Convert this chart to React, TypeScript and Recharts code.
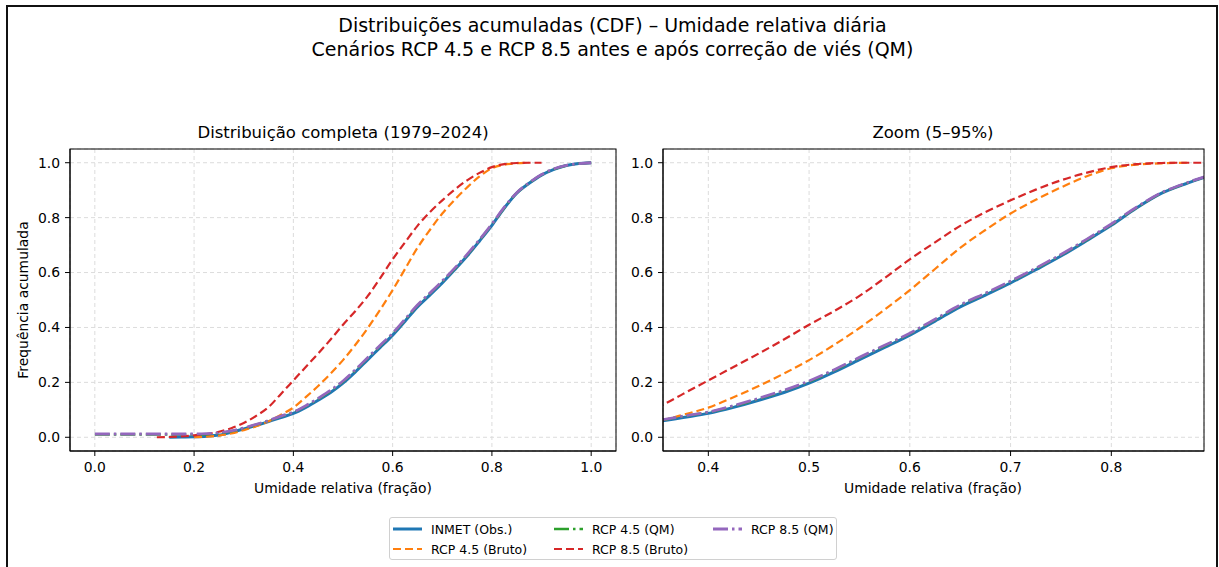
import React from "react"
import {
  CartesianGrid,
  Line,
  LineChart,
  XAxis,
  YAxis,
} from "recharts"

// umidade relativa (fração) — grade comum das CDFs
const umidade = [
  0, 0.025, 0.05, 0.075, 0.1, 0.125, 0.15, 0.175, 0.2, 0.225, 0.25, 0.275,
  0.3, 0.325, 0.35, 0.375, 0.4, 0.425, 0.45, 0.475, 0.5, 0.525, 0.55, 0.575,
  0.6, 0.625, 0.65, 0.675, 0.7, 0.725, 0.75, 0.775, 0.8, 0.825, 0.85, 0.875,
  0.9, 0.925, 0.95, 0.975, 1.0,
]

const inmetObs = [
  null, null, null, null, null, null, 0.0, 0.001, 0.002, 0.004, 0.008, 0.018,
  0.03, 0.043, 0.057, 0.072, 0.087, 0.109, 0.135, 0.163, 0.197, 0.238, 0.283, 0.327,
  0.372, 0.423, 0.475, 0.518, 0.562, 0.61, 0.66, 0.715, 0.772, 0.835, 0.889, 0.925,
  0.955, 0.976, 0.99, 0.997, 1.0,
]

const rcp45Bruto = [
  null, null, null, null, null, null, null, null, 0.0, 0.002, 0.006, 0.014,
  0.026, 0.04, 0.058, 0.082, 0.108, 0.146, 0.187, 0.232, 0.281, 0.337, 0.398, 0.465,
  0.536, 0.613, 0.69, 0.755, 0.815, 0.865, 0.91, 0.95, 0.98, 0.993, 0.998, 1.0,
  null, null, null, null, null,
]

const rcp45QM = [
  0.01, 0.01, 0.01, 0.01, 0.01, 0.01, 0.01, 0.01, 0.01, 0.011, 0.015, 0.022,
  0.033, 0.046, 0.06, 0.076, 0.091, 0.113, 0.14, 0.169, 0.203, 0.244, 0.289, 0.333,
  0.377, 0.428, 0.48, 0.523, 0.567, 0.614, 0.664, 0.718, 0.775, 0.836, 0.89, 0.926,
  0.956, 0.977, 0.99, 0.997, 1.0,
]

const rcp85Bruto = [
  null, null, null, null, null, 0.0, 0.001, 0.003, 0.007, 0.012, 0.02, 0.033,
  0.052, 0.078, 0.11, 0.158, 0.207, 0.256, 0.305, 0.356, 0.41, 0.46, 0.515, 0.58,
  0.648, 0.71, 0.77, 0.82, 0.863, 0.902, 0.936, 0.963, 0.984, 0.995, 0.999, 1.0,
  1.0, null, null, null, null,
]

const rcp85QM = [
  0.012, 0.012, 0.012, 0.012, 0.012, 0.012, 0.012, 0.012, 0.012, 0.013, 0.016, 0.023,
  0.034, 0.047, 0.061, 0.077, 0.092, 0.115, 0.142, 0.171, 0.205, 0.246, 0.291, 0.335,
  0.379, 0.43, 0.482, 0.525, 0.569, 0.616, 0.666, 0.72, 0.777, 0.838, 0.891, 0.927,
  0.957, 0.978, 0.99, 0.997, 1.0,
]

const yTicks = [0, 0.2, 0.4, 0.6, 0.8, 1.0]
const xTicksFull = [0, 0.2, 0.4, 0.6, 0.8, 1.0]
const xTicksZoom = [0.4, 0.5, 0.6, 0.7, 0.8]

const FONT = "'DejaVu Sans', sans-serif"

const rows = umidade.map((x, i) => ({
  x,
  inmet: inmetObs[i],
  r45b: rcp45Bruto[i],
  r45q: rcp45QM[i],
  r85b: rcp85Bruto[i],
  r85q: rcp85QM[i],
}))

const series = [
  { key: "inmet", name: "INMET (Obs.)", color: "#1f77b4", width: 3, dash: undefined },
  { key: "r45b", name: "RCP 4.5 (Bruto)", color: "#ff7f0e", width: 2.2, dash: "8 4" },
  { key: "r45q", name: "RCP 4.5 (QM)", color: "#2ca02c", width: 2.4, dash: "15 4 2.5 4" },
  { key: "r85b", name: "RCP 8.5 (Bruto)", color: "#d62728", width: 2.2, dash: "8 4" },
  { key: "r85q", name: "RCP 8.5 (QM)", color: "#9467bd", width: 2.8, dash: "15 4 2.5 4" },
]

const tickStyle = { fill: "#000", fontSize: 13.9, fontFamily: FONT }

// chart boxes (page px); plot area = box minus margins/axes
const TOP = 140
const HEIGHT = 370
const M_TOP = 9
const M_BOTTOM = 19
const X_AXIS_H = 40

interface PanelProps {
  left: number
  width: number
  yAxisWidth: number
  marginLeft: number
  marginRight: number
  domain: [number, number]
  ticks: number[]
}

function Panel({ left, width, yAxisWidth, marginLeft, marginRight, domain, ticks }: PanelProps) {
  const px = left + marginLeft + yAxisWidth
  const pw = width - marginLeft - yAxisWidth - marginRight
  const py = TOP + M_TOP
  const ph = HEIGHT - M_TOP - M_BOTTOM - X_AXIS_H
  return (
    <>
      <div style={{ position: "absolute", left, top: TOP }}>
        <LineChart
          width={width}
          height={HEIGHT}
          data={rows}
          margin={{ top: M_TOP, right: marginRight, bottom: M_BOTTOM, left: marginLeft }}
        >
          <CartesianGrid stroke="#dcdcdc" strokeDasharray="4 3" />
          <XAxis
            dataKey="x"
            type="number"
            domain={domain}
            ticks={ticks}
            allowDataOverflow
            height={X_AXIS_H}
            tickSize={5}
            tickMargin={6}
            stroke="#000"
            tick={tickStyle}
            tickFormatter={(v) => Number(v).toFixed(1)}
          />
          <YAxis
            type="number"
            domain={[-0.05, 1.05]}
            ticks={yTicks}
            allowDataOverflow
            width={yAxisWidth}
            tickSize={5}
            tickMargin={5}
            stroke="#000"
            tick={tickStyle}
            tickFormatter={(v) => Number(v).toFixed(1)}
          />
          {series.map((s) => (
            <Line
              key={s.key}
              dataKey={s.key}
              type="monotone"
              stroke={s.color}
              strokeWidth={s.width}
              strokeDasharray={s.dash}
              dot={false}
              activeDot={false}
              isAnimationActive={false}
            />
          ))}
        </LineChart>
      </div>
      {/* moldura (spines superior e direita) */}
      <svg
        width={1219}
        height={567}
        style={{ position: "absolute", left: 0, top: 0, pointerEvents: "none" }}
      >
        <rect x={px} y={py} width={pw} height={ph} fill="none" stroke="#000" strokeWidth={1} />
      </svg>
    </>
  )
}

function LegendBox() {
  const cols = [
    [series[0], series[1]],
    [series[2], series[3]],
    [series[4]],
  ]
  const colX = [3, 164, 323]
  return (
    <div
      style={{
        position: "absolute",
        left: 389,
        top: 517,
        width: 448,
        height: 43,
        boxSizing: "border-box",
        border: "1px solid #d0d0d0",
        borderRadius: 3,
        background: "#fff",
        fontFamily: FONT,
        fontSize: 12.5,
        color: "#000",
      }}
    >
      {cols.map((col, ci) =>
        col.map((s, ri) => (
          <div
            key={s.key}
            style={{
              position: "absolute",
              left: colX[ci],
              top: 3 + ri * 20,
              height: 16,
              display: "flex",
              alignItems: "center",
              whiteSpace: "nowrap",
            }}
          >
            <svg width={29} height={8} style={{ marginRight: 9 }}>
              <line
                x1={0}
                y1={4}
                x2={29}
                y2={4}
                stroke={s.color}
                strokeWidth={s.width}
                strokeDasharray={s.dash}
              />
            </svg>
            <span>{s.name}</span>
          </div>
        ))
      )}
    </div>
  )
}

export default function App() {
  const text = (style: React.CSSProperties, content: string) => (
    <div
      style={{
        position: "absolute",
        fontFamily: FONT,
        color: "#000",
        whiteSpace: "nowrap",
        textAlign: "center",
        ...style,
      }}
    >
      {content}
    </div>
  )

  return (
    <div
      style={{
        position: "absolute",
        left: 0,
        top: 0,
        width: 1219,
        height: 567,
        overflow: "hidden",
        background: "#fff",
      }}
    >
      <div
        style={{
          position: "absolute",
          left: 6,
          top: 5,
          width: 1212,
          height: 620,
          boxSizing: "border-box",
          border: "2px solid #111",
        }}
      />
      {text({ left: 0, width: 1225, top: 13, fontSize: 19, lineHeight: "24px" }, "Distribuições acumuladas (CDF) – Umidade relativa diária")}
      {text({ left: 0, width: 1225, top: 37, fontSize: 19, lineHeight: "24px" }, "Cenários RCP 4.5 e RCP 8.5 antes e após correção de viés (QM)")}

      <Panel left={0} width={630} yAxisWidth={55} marginLeft={15} marginRight={14} domain={[-0.05, 1.05]} ticks={xTicksFull} />
      <Panel left={620} width={600} yAxisWidth={38} marginLeft={5} marginRight={16} domain={[0.355, 0.892]} ticks={xTicksZoom} />

      {text({ left: 43, width: 600, top: 123, fontSize: 16.5, lineHeight: "20px" }, "Distribuição completa (1979–2024)")}
      {text({ left: 633, width: 600, top: 123, fontSize: 16.5, lineHeight: "20px" }, "Zoom (5–95%)")}
      {text({ left: 43, width: 600, top: 479, fontSize: 13.9, lineHeight: "18px" }, "Umidade relativa (fração)")}
      {text({ left: 633, width: 600, top: 479, fontSize: 13.9, lineHeight: "18px" }, "Umidade relativa (fração)")}
      {text(
        {
          left: 23 - 100,
          width: 200,
          top: 300 - 9,
          fontSize: 13.9,
          lineHeight: "18px",
          transform: "rotate(-90deg)",
        },
        "Frequência acumulada"
      )}

      <LegendBox />
    </div>
  )
}
